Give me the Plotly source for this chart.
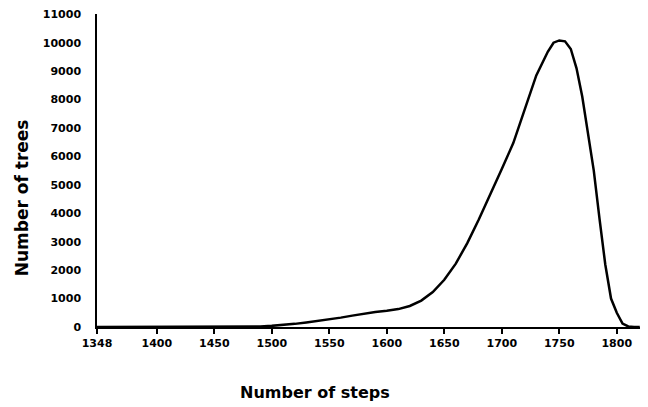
import plotly.graph_objects as go

# Number of steps (x) and number of trees (y)
steps = [1348, 1360, 1370, 1380, 1390, 1400, 1410, 1420, 1430, 1440, 1450, 1460, 1470,
         1480, 1490, 1500, 1510, 1520, 1530, 1540, 1550, 1560, 1570, 1580, 1590, 1600,
         1610, 1620, 1630, 1640, 1650, 1660, 1670, 1680, 1690, 1700, 1710, 1720, 1730,
         1740, 1745, 1750, 1755, 1760, 1765, 1770, 1775, 1780, 1785, 1790, 1795, 1800,
         1805, 1810, 1815, 1820]
trees = [0, 0, 0, 0, 0, 0, 0, 0, 0, 0, 5, 5, 10,
         15, 20, 40, 70, 110, 160, 210, 260, 330, 400, 470, 530, 570,
         630, 740, 930, 1230, 1660, 2230, 2950, 3780, 4650, 5560, 6470, 7640, 8850,
         9680, 10000, 10080, 10050, 9780, 9100, 8100, 6850, 5500, 3800, 2200, 1000, 500,
         120, 20, 0, 0]

x_tickvals = [1348, 1400, 1450, 1500, 1550, 1600, 1650, 1700, 1750, 1800]
x_ticktext = ["1348", "1400", "1450", "1500", "1550", "1600", "1650", "1700", "1750", "1800"]
y_tickvals = [0, 1000, 2000, 3000, 4000, 5000, 6000, 7000, 8000, 9000, 10000, 11000]
y_ticktext = [str(v) for v in y_tickvals]

x_title = "Number of steps"
y_title = "Number of trees"

fig = go.Figure()
fig.add_trace(go.Scatter(x=steps, y=trees, mode="lines",
                         line=dict(color="black", width=2.5), showlegend=False))

tickfont = dict(family="DejaVu Sans", size=11, color="black", weight="bold")

fig.update_layout(
    width=648, height=407,
    margin=dict(l=89, r=13, t=6, b=88, autoexpand=False),
    paper_bgcolor="white", plot_bgcolor="white",
    xaxis=dict(range=[1348, 1822.8], tickvals=x_tickvals, ticktext=x_ticktext,
               showgrid=False, zeroline=False, showline=True, linecolor="black",
               linewidth=1.5, ticks="outside", ticklen=5, tickcolor="black",
               tickwidth=1.5, tickfont=tickfont, ticklabelstandoff=0, automargin=False),
    yaxis=dict(range=[0, 11010], tickvals=y_tickvals, ticktext=y_ticktext,
               showgrid=False, zeroline=False, showline=True, linecolor="black",
               linewidth=1.5, ticks="", tickfont=tickfont, ticklabelstandoff=12,
               ticklabeloverflow="allow", automargin=False),
    annotations=[
        dict(text=x_title, xref="paper", yref="paper", x=0.40, y=-0.208,
             showarrow=False, xanchor="center", yanchor="middle",
             font=dict(family="DejaVu Sans", size=16, color="black", weight="bold")),
        dict(text=y_title, xref="paper", yref="paper", x=-0.137, y=0.412,
             showarrow=False, xanchor="center", yanchor="middle", textangle=-90,
             font=dict(family="DejaVu Sans", size=17, color="black", weight="bold")),
    ],
)

fig.write_html("out.html")
